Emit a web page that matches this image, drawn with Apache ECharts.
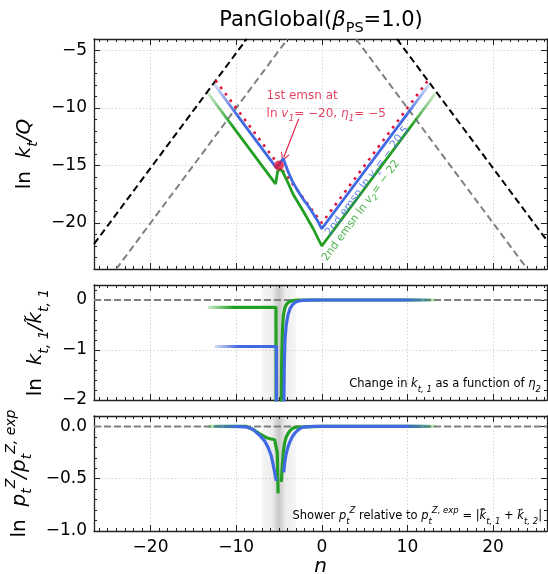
<!DOCTYPE html>
<html>
<head>
<meta charset="utf-8">
<script src="https://cdn.jsdelivr.net/npm/echarts@6/dist/echarts.min.js"></script>
<style>
  html, body { margin: 0; padding: 0; background: #ffffff; }
  #chart { width: 548px; height: 574px; }
</style>
</head>
<body>
<div id="chart"></div>
<script>
// ---------------- axis ranges ----------------
const nRange = [-26.6, 26.3];
const ktRange = [-24, -4];
const ratioRange = [-2, 0.3];
const ptRange = [-1, 0.1];

// ---------------- top panel: ln kt/Q ----------------
// kinematic edges (black dashed) and ln kt/Q = -|n| (grey dashed)
const edgeLeftN = [-26.6, -8.77];
const edgeLeftY = [-21.83, -4.0];
const edgeRightN = [8.77, 26.3];
const edgeRightY = [-4.0, -21.53];
const diagLeftN = [-24, -4];
const diagLeftY = [-24, -4];
const diagRightN = [4, 24];
const diagRightY = [-4, -24];

// first emission contour ln v1 = -20 (dotted)
const emsn1N = [-12.4, 0, 12.4];
const emsn1Y = [-7.6, -20, -7.6];
const emsn1PointN = [-5];
const emsn1PointY = [-15];

// second emission, ln v2 = -20.5
const blueTopN = [-12.6, -5.3, -4.5, -4.4, -3.9, -3.35, -2.8, -2.2, -1.6, -1.0, -0.5, 0, 12.6];
const blueTopY = [-7.9, -15.2, -14.4, -14.5, -15.6, -16.5, -17.2, -17.9, -18.5, -19.2, -19.8, -20.5, -7.9];
// second emission, ln v2 = -22
const greenTopN = [-13.3, -5.4, -5.15, -4.9, -4.6, -4.13, -3.35, -2.18, -1.0, 0, 13.3];
const greenTopY = [-8.7, -16.6, -15.5, -15.3, -15.5, -16.2, -17.5, -18.96, -20.5, -22.0, -8.7];

// annotation anchors
const arrowN = [-2.7, -4.45];
const arrowY = [-10.95, -14.3];
const noteN = [-6.45];
const noteY = [-8.2];
const blueNoteN = [0.7];
const blueNoteY = [-21.0];
const greenNoteN = [0.3];
const greenNoteY = [-23.2];

// ---------------- middle panel: ln kt1 / kt1~ ----------------
const bandN = [-7.0, -3.0];
const zeroN = [-26.6, 26.3];
const zeroY = [0, 0];
const blueMidN = [-12.5, -5.3, -5.28, null, -4.45, -4.42, -4.38, -4.3, -4.15, -3.95, -3.7, -3.4, -3.1, -2.7, -2.2, -1.5, 0, 12.6];
const blueMidY = [-0.93, -0.93, -3, null, -3, -2, -1.3, -0.8, -0.5, -0.3, -0.17, -0.09, -0.045, -0.02, -0.008, -0.002, 0, 0];
const greenMidN = [-13.3, -5.35, -5.33, null, -4.75, -4.72, -4.68, -4.6, -4.48, -4.3, -4.1, -3.8, -3.4, -2.8, 0, 13.3];
const greenMidY = [-0.146, -0.146, -3, null, -3, -2, -1.2, -0.6, -0.3, -0.15, -0.08, -0.035, -0.012, -0.003, 0, 0];

// ---------------- bottom panel: ln pt^Z / pt^Z,exp ----------------
const blueBotN = [-12.6, -9.5, -8.8, -8.0, -7.24, -6.7, -6.27, -5.9, -5.69, -5.5, -5.3, null, -4.45, -4.35, -4.2, -4.0, -3.74, -3.45, -3.15, -2.8, -2.5, -2.18, -1.0, 12.6];
const blueBotY = [0, -0.002, -0.006, -0.03, -0.086, -0.135, -0.2, -0.28, -0.36, -0.44, -0.52, null, -0.44, -0.36, -0.28, -0.21, -0.15, -0.1, -0.065, -0.035, -0.018, -0.006, 0, 0];
const greenBotN = [-13.3, -8.8, -8.0, -7.24, -6.46, -5.9, -5.5, -5.3, -5.2, -5.1, null, -4.72, -4.62, -4.5, -4.35, -4.15, -3.93, -3.7, -3.4, -2.96, 0, 13.3];
const greenBotY = [0, 0, -0.03, -0.07, -0.108, -0.12, -0.127, -0.14, -0.25, -0.64, null, -0.53, -0.38, -0.25, -0.16, -0.1, -0.065, -0.04, -0.018, -0.006, 0, 0];

// ---------------- styling ----------------
const F = "'DejaVu Sans', sans-serif";
const BLUE = '65,105,225';
const GREEN = '35,160,35';
const CRIMSON = '#dc143c';
const AXIS = '#222222';

const chart = echarts.init(document.getElementById('chart'), null, { renderer: 'canvas' });

function pairs(n, y) {
  return n.map((v, i) => (v === null || y[i] === null) ? ['-', '-'] : [v, y[i]]);
}

function fade(rgb) {
  return new echarts.graphic.LinearGradient(0, 0, 1, 0, [
    { offset: 0, color: `rgba(${rgb},0.15)` },
    { offset: 0.12, color: `rgba(${rgb},1)` },
    { offset: 0.88, color: `rgba(${rgb},1)` },
    { offset: 1, color: `rgba(${rgb},0.15)` }
  ]);
}

function minus(s) { return String(s).replace('-', '\u2212'); }

const grids = [
  { left: 94, right: 1, top: 39, height: 230 },
  { left: 94, right: 1, top: 285, height: 115 },
  { left: 94, right: 1, top: 416, height: 115 }
];

const tickLine = { color: AXIS, width: 1 };
const splitStyle = { show: true, lineStyle: { color: '#cccccc', type: [1.5, 2], width: 0.8 } };

function xPair(gi, withLabels) {
  const base = {
    type: 'value', gridIndex: gi, min: nRange[0], max: nRange[1], splitNumber: 5,
    axisLine: { show: true, onZero: false, lineStyle: { color: AXIS, width: 1.3 } },
    axisTick: { show: true, inside: true, length: 6, lineStyle: tickLine },
    minorTick: { show: true, splitNumber: 10, length: 3, lineStyle: tickLine },
    axisPointer: { show: false }
  };
  return [
    Object.assign({}, base, {
      position: 'bottom',
      splitLine: splitStyle,
      axisLabel: {
        show: withLabels, fontFamily: F, fontSize: 17, color: '#000', margin: 8,
        showMinLabel: false, showMaxLabel: false,
        formatter: v => minus(v)
      },
      name: withLabels ? 'n' : '',
      nameLocation: 'middle', nameGap: 16,
      nameTextStyle: { fontFamily: F, fontSize: 20, fontStyle: 'italic', color: '#000' }
    }),
    Object.assign({}, base, {
      position: 'top', splitLine: { show: false }, axisLabel: { show: false }
    })
  ];
}

function yPair(gi, range, split, minorSplit, fmt, name, gap) {
  const base = {
    type: 'value', gridIndex: gi, min: range[0], max: range[1], splitNumber: split,
    axisLine: { show: true, onZero: false, lineStyle: { color: AXIS, width: 1.3 } },
    axisTick: { show: true, inside: true, length: 6, lineStyle: tickLine },
    minorTick: { show: true, splitNumber: minorSplit, length: 3, lineStyle: tickLine },
    axisPointer: { show: false }
  };
  const nameRich = {
    r: { fontFamily: F, fontSize: 20, color: '#000', lineHeight: 30 },
    i: { fontFamily: F, fontSize: 20, fontStyle: 'italic', color: '#000', lineHeight: 30 },
    s: { fontFamily: F, fontSize: 14, fontStyle: 'italic', color: '#000', verticalAlign: 'bottom', lineHeight: 14 },
    p: { fontFamily: F, fontSize: 14, fontStyle: 'italic', color: '#000', verticalAlign: 'top', lineHeight: 14 }
  };
  return [
    Object.assign({}, base, {
      position: 'left',
      splitLine: splitStyle,
      axisLabel: {
        fontFamily: F, fontSize: 17, color: '#000', margin: 7,
        showMinLabel: range[0] === -2 || range[0] === -1, showMaxLabel: false,
        formatter: fmt
      },
      name: name, nameLocation: 'middle', nameRotate: 90, nameGap: gap,
      nameTextStyle: { rich: nameRich, fontFamily: F, fontSize: 20, color: '#000' }
    }),
    Object.assign({}, base, {
      position: 'right', splitLine: { show: false }, axisLabel: { show: false }
    })
  ];
}

const intFmt = v => minus(Math.round(v));
const oneDec = v => minus(v.toFixed(1));

const xAxis = [].concat(xPair(0, false), xPair(1, false), xPair(2, true));
const yAxis = [].concat(
  yPair(0, ktRange, 4, 5, intFmt, '{r|ln  }{i|k}{s|t}{i|/Q}', 50),
  yPair(1, ratioRange, 2, 5, intFmt, '{r|ln  }{i|k}{s|t, 1}{i|/k\u0303}{s|t, 1}', 36),
  yPair(2, ptRange, 2, 5, oneDec, '{r|ln  }{i|p}{s|t}{p|Z}{i|/p}{s|t}{p|Z, exp}', 56)
);

function line(gi, n, y, color, width, dash, z) {
  return {
    type: 'line', xAxisIndex: 2 * gi, yAxisIndex: 2 * gi,
    data: pairs(n, y), symbol: 'none', showSymbol: false, silent: true,
    connectNulls: false, clip: true, z: z,
    lineStyle: { color: color, width: width, type: dash || 'solid', cap: 'butt' },
    animation: false
  };
}

const bandFill = new echarts.graphic.LinearGradient(0, 0, 1, 0, [
  { offset: 0, color: 'rgba(0,0,0,0.035)' },
  { offset: 0.3, color: 'rgba(0,0,0,0.07)' },
  { offset: 0.5, color: 'rgba(0,0,0,0.22)' },
  { offset: 0.7, color: 'rgba(0,0,0,0.07)' },
  { offset: 1, color: 'rgba(0,0,0,0.035)' }
]);

function zeroLine(gi) {
  const s = line(gi, zeroN, zeroY, '#808080', 2, [7, 3], 2);
  s.markArea = {
    silent: true,
    itemStyle: { color: bandFill },
    data: [[{ xAxis: bandN[0] }, { xAxis: bandN[1] }]]
  };
  return s;
}

const noteRich = {
  c: { fontFamily: F, fontSize: 12, color: CRIMSON, lineHeight: 18 },
  ci: { fontFamily: F, fontSize: 12, fontStyle: 'italic', color: CRIMSON, lineHeight: 18 },
  cs: { fontFamily: F, fontSize: 9, fontStyle: 'italic', color: CRIMSON, verticalAlign: 'bottom', lineHeight: 9 }
};

function slantNote(n, y, rgb, text) {
  return {
    type: 'scatter', xAxisIndex: 0, yAxisIndex: 0, silent: true, z: 6,
    data: pairs(n, y), symbolSize: 0,
    label: {
      show: true, position: 'inside', align: 'left', verticalAlign: 'middle',
      rotate: 53.4, formatter: text,
      rich: {
        a: { fontFamily: F, fontSize: 11, color: `rgb(${rgb})`, lineHeight: 16 },
        b: { fontFamily: F, fontSize: 11, fontStyle: 'italic', color: `rgb(${rgb})`, lineHeight: 16 },
        c: { fontFamily: F, fontSize: 8, fontStyle: 'italic', color: `rgb(${rgb})`, verticalAlign: 'bottom', lineHeight: 8 }
      }
    },
    animation: false
  };
}

const series = [
  // top panel
  line(0, edgeLeftN, edgeLeftY, '#000000', 2, [7, 4], 2),
  line(0, edgeRightN, edgeRightY, '#000000', 2, [7, 4], 2),
  line(0, diagLeftN, diagLeftY, '#808080', 2, [7, 4], 2),
  line(0, diagRightN, diagRightY, '#808080', 2, [7, 4], 2),
  line(0, emsn1N, emsn1Y, CRIMSON, 2.6, [2.6, 5.4], 3),
  line(0, greenTopN, greenTopY, fade(GREEN), 2.8, null, 4),
  line(0, blueTopN, blueTopY, fade(BLUE), 2.8, null, 5),
  {
    type: 'scatter', xAxisIndex: 0, yAxisIndex: 0, silent: true, z: 7,
    data: pairs(emsn1PointN, emsn1PointY), symbol: 'circle', symbolSize: 10,
    itemStyle: { color: CRIMSON },
    markLine: {
      silent: true, animation: false,
      symbol: ['none', 'path://M0,10 L5,0 L10,10 L8.8,10 L5,2.4 L1.2,10 Z'],
      symbolSize: 9,
      lineStyle: { color: CRIMSON, width: 1.1, type: 'solid' },
      label: { show: false },
      data: [[{ coord: [arrowN[0], arrowY[0]] }, { coord: [arrowN[1], arrowY[1]] }]]
    },
    animation: false
  },
  {
    type: 'scatter', xAxisIndex: 0, yAxisIndex: 0, silent: true, z: 7,
    data: pairs(noteN, noteY), symbolSize: 0,
    label: {
      show: true, position: 'inside', align: 'left', verticalAlign: 'top',
      formatter: '{c|1st emsn at}\n{c|ln }{ci|v}{cs|1}{c|= \u221220, }{ci|\u03b7}{cs|1}{c|= \u22125}',
      rich: noteRich
    },
    animation: false
  },
  slantNote(blueNoteN, blueNoteY, BLUE, '{a|2nd emsn ln }{b|v}{c|2}{a|= \u2212 20.5}'),
  slantNote(greenNoteN, greenNoteY, GREEN, '{a|2nd emsn ln }{b|v}{c|2}{a|= \u2212 22}'),

  // middle panel
  zeroLine(1),
  line(1, greenMidN, greenMidY, fade(GREEN), 3.2, null, 4),
  line(1, blueMidN, blueMidY, fade(BLUE), 3.2, null, 5),

  // bottom panel
  zeroLine(2),
  line(2, greenBotN, greenBotY, fade(GREEN), 3.2, null, 4),
  line(2, blueBotN, blueBotY, fade(BLUE), 3.2, null, 5)
];

const capRich = {
  n: { fontFamily: F, fontSize: 11.5, color: '#000', lineHeight: 20 },
  i: { fontFamily: F, fontSize: 11.5, fontStyle: 'italic', color: '#000', lineHeight: 20 },
  s: { fontFamily: F, fontSize: 8.5, fontStyle: 'italic', color: '#000', verticalAlign: 'bottom', lineHeight: 9 },
  p: { fontFamily: F, fontSize: 8.5, fontStyle: 'italic', color: '#000', verticalAlign: 'top', lineHeight: 9 }
};

const titleRich = {
  a: { fontFamily: F, fontSize: 21, color: '#000', lineHeight: 30 },
  b: { fontFamily: F, fontSize: 21, fontStyle: 'italic', color: '#000', lineHeight: 30 },
  s: { fontFamily: F, fontSize: 14.5, color: '#000', verticalAlign: 'bottom', lineHeight: 15 }
};

chart.setOption({
  backgroundColor: '#ffffff',
  animation: false,
  grid: grids.map(g => Object.assign({ outerBoundsMode: 'none', containLabel: false }, g)),
  xAxis: xAxis,
  yAxis: yAxis,
  series: series,
  graphic: [
    {
      type: 'text', x: 321, y: 21, silent: true,
      style: {
        text: '{a|PanGlobal(}{b|\u03b2}{s|PS}{a|=1.0)}',
        rich: titleRich, align: 'center', verticalAlign: 'middle'
      }
    },
    {
      type: 'text', right: 7, top: 378, silent: true,
      style: {
        text: '{n|Change in }{i|k}{s|t, 1}{n| as a function of }{i|\u03b7}{s|2}',
        rich: capRich
      }
    },
    {
      type: 'text', right: 6, top: 506, silent: true,
      style: {
        text: '{n|Shower }{i|p}{s|t}{p|Z}{n| relative to }{i|p}{s|t}{p|Z, exp}{n| = |}{i|k\u0303\u20d7}{s|t, 1}{n| + }{i|k\u20d7}{s|t, 2}{n||}',
        rich: capRich
      }
    }
  ]
});
</script>
</body>
</html>
